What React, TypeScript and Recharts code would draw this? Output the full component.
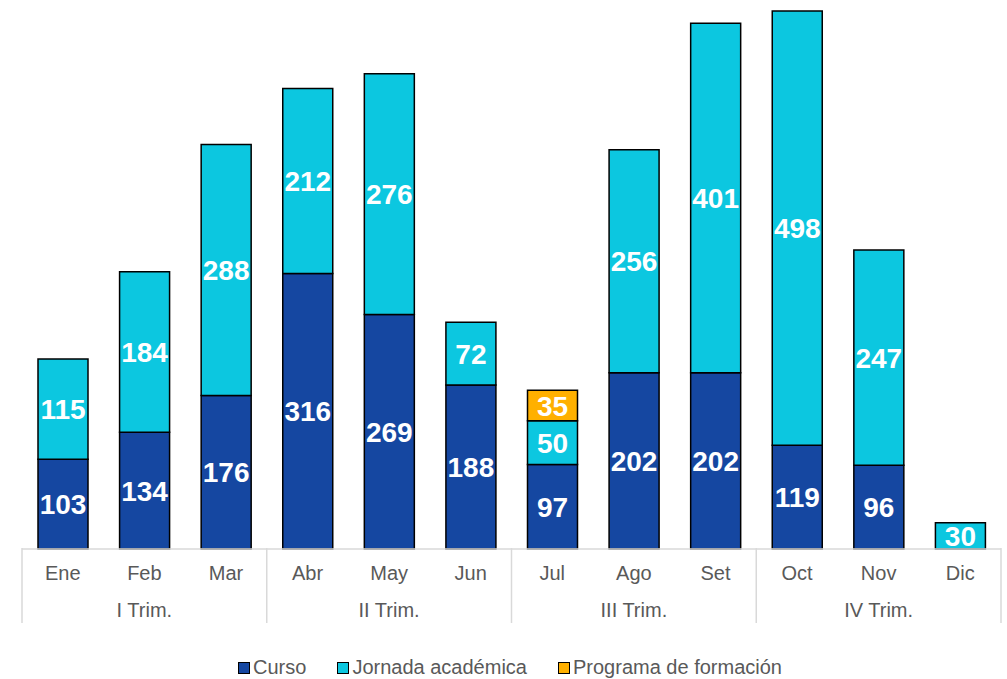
import { BarChart, Bar, XAxis, YAxis, Legend, LabelList } from "recharts";

const months = ["Ene", "Feb", "Mar", "Abr", "May", "Jun", "Jul", "Ago", "Set", "Oct", "Nov", "Dic"];
const quarters = ["I Trim.", "II Trim.", "III Trim.", "IV Trim."];
const curso = [103, 134, 176, 316, 269, 188, 97, 202, 202, 119, 96, 0];
const jornada = [115, 184, 288, 212, 276, 72, 50, 256, 401, 498, 247, 30];
const programa = [0, 0, 0, 0, 0, 0, 35, 0, 0, 0, 0, 0];

const data = months.map((m, i) => ({
  month: m,
  curso: curso[i],
  jornada: jornada[i],
  programa: programa[i],
}));

const series = [
  { key: "curso", name: "Curso", color: "#1547A1" },
  { key: "jornada", name: "Jornada académica", color: "#0CC7E0" },
  { key: "programa", name: "Programa de formación", color: "#FFB000" },
];

const W = 1007;
const H = 679;
const M = { top: 11, right: 6, left: 22, bottom: 0 };
const BAND = (W - M.left - M.right) / months.length;
const BASE = 548;
const FONT = "'Liberation Sans', Arial, sans-serif";
const GRAY = "#595959";
const GRID = "#d9d9d9";

function MonthTick(props: any) {
  const { x, payload, index } = props;
  return (
    <g>
      <text x={x} y={BASE + 32} textAnchor="middle" fontSize={20} fill={GRAY} fontFamily={FONT}>
        {payload.value}
      </text>
      {index % 3 === 1 && (
        <text x={x} y={BASE + 69} textAnchor="middle" fontSize={20} fill={GRAY} fontFamily={FONT}>
          {quarters[Math.floor(index / 3)]}
        </text>
      )}
      {index % 3 === 0 && (
        <line x1={x - BAND / 2} x2={x - BAND / 2} y1={BASE} y2={BASE + 75} stroke={GRID} strokeWidth={1.5} />
      )}
      {index === months.length - 1 && (
        <line x1={x + BAND / 2} x2={x + BAND / 2} y1={BASE} y2={BASE + 75} stroke={GRID} strokeWidth={1.5} />
      )}
    </g>
  );
}

function ValueLabel(props: any) {
  const { x, y, width, height, value } = props;
  if (!value) return null;
  return (
    <text
      x={x + width / 2}
      y={y + height / 2}
      dy={10}
      textAnchor="middle"
      fontSize={28}
      fontWeight="bold"
      fill="#ffffff"
      fontFamily={FONT}
    >
      {value}
    </text>
  );
}

function LegendBox() {
  return (
    <div
      style={{
        height: 58,
        display: "flex",
        justifyContent: "center",
        alignItems: "flex-end",
        fontFamily: FONT,
        fontSize: 20,
        color: GRAY,
        paddingLeft: 28,
        boxSizing: "border-box",
      }}
    >
      {series.map((s) => (
        <div key={s.key} style={{ display: "flex", alignItems: "center", marginRight: 31, paddingBottom: 0 }}>
          <span
            style={{
              width: 10,
              height: 10,
              background: s.color,
              border: "1px solid #000",
              marginRight: 3,
              display: "inline-block",
            }}
          />
          <span>{s.name}</span>
        </div>
      ))}
    </div>
  );
}

export default function App() {
  return (
    <div style={{ position: "absolute", left: 0, top: 0, width: W, height: H, background: "#fff" }}>
      <BarChart width={W} height={H} data={data} margin={M} barSize={50}>
        <XAxis
          dataKey="month"
          height={72}
          interval={0}
          tickLine={false}
          axisLine={{ stroke: GRID, strokeWidth: 1.5 }}
          tick={<MonthTick />}
        />
        <YAxis hide domain={[0, 617]} />
        <Legend verticalAlign="bottom" height={58} content={<LegendBox />} />
        {series.map((s) => (
          <Bar
            key={s.key}
            dataKey={s.key}
            name={s.name}
            stackId="a"
            fill={s.color}
            stroke="#000"
            strokeWidth={1.5}
            isAnimationActive={false}
          >
            <LabelList dataKey={s.key} content={<ValueLabel />} />
          </Bar>
        ))}
      </BarChart>
    </div>
  );
}
